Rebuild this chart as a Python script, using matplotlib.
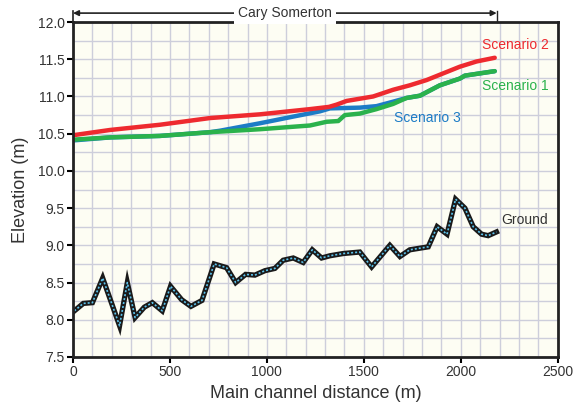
import matplotlib
matplotlib.use('Agg')
import matplotlib.pyplot as plt

plt.rcParams['font.family'] = ['Liberation Sans', 'DejaVu Sans']

# Ground profile
ground_x = [7, 53, 100, 153, 240, 280, 320, 368, 409, 460, 503, 560, 608,
            665, 728, 792, 839, 890, 938, 990, 1041, 1084, 1136, 1187, 1234,
            1282, 1325, 1393, 1479, 1540, 1634, 1686, 1737, 1832, 1878, 1929,
            1973, 2021, 2064, 2107, 2141, 2184]
ground_y = [8.12, 8.22, 8.23, 8.56, 7.92, 8.5, 8.03, 8.17, 8.23, 8.12, 8.45,
            8.27, 8.18, 8.26, 8.75, 8.7, 8.5, 8.61, 8.6, 8.66, 8.69, 8.8,
            8.83, 8.77, 8.94, 8.83, 8.86, 8.89, 8.91, 8.71, 9.0, 8.85, 8.94,
            8.98, 9.25, 9.15, 9.62, 9.5, 9.25, 9.15, 9.13, 9.18]

# Scenario 2
s2_x = [2, 191, 448, 706, 964, 1222, 1320, 1359, 1411, 1548, 1651, 1737,
        1823, 1909, 1995, 2081, 2175]
s2_y = [10.48, 10.55, 10.62, 10.71, 10.76, 10.83, 10.86, 10.89, 10.94, 11.0,
        11.09, 11.15, 11.22, 11.31, 11.4, 11.47, 11.52]

# Scenario 1
s1_x = [2, 191, 448, 706, 964, 1222, 1308, 1368, 1402, 1479, 1565, 1651,
        1720, 1789, 1892, 1995, 2021, 2175]
s1_y = [10.42, 10.45, 10.47, 10.52, 10.56, 10.61, 10.66, 10.67, 10.75, 10.77,
        10.83, 10.9, 10.98, 11.01, 11.15, 11.24, 11.28, 11.34]

# Scenario 3 (follows scenario 1 at both ends)
s3_x = [2, 191, 448, 706, 758, 964, 1136, 1273, 1325, 1479, 1565, 1651, 1720,
        1789, 1892, 1995, 2021, 2175]
s3_y = [10.41, 10.45, 10.47, 10.52, 10.54, 10.64, 10.73, 10.8, 10.84, 10.85,
        10.87, 10.93, 10.98, 11.01, 11.15, 11.24, 11.28, 11.34]

reach_start = 0
reach_end = 2185

red = '#ee2a2f'
green = '#2bb24c'
blue = '#1d7cc6'
txt = '#333333'

fig = plt.figure(figsize=(5.75, 4.08), dpi=100)
ax = fig.add_axes([0.127, 0.125, 0.843, 0.821])
ax.set_facecolor('#fdfdf3')

ax.set_xlim(0, 2500)
ax.set_ylim(7.5, 12.0)
ax.set_xticks(range(0, 2501, 500))
ax.set_yticks([7.5 + 0.5 * i for i in range(10)])
ax.set_yticklabels(['%.1f' % (7.5 + 0.5 * i) for i in range(10)])
ax.set_xticks(range(0, 2501, 100), minor=True)
ax.set_yticks([7.5 + 0.25 * i for i in range(19)], minor=True)
ax.grid(which='both', color='#cdcedb', linewidth=1.0)
ax.set_axisbelow(True)
ax.tick_params(which='minor', length=0)
ax.tick_params(which='major', direction='out', length=4, width=1.5,
               labelsize=10, labelcolor=txt, pad=2)
for s in ax.spines.values():
    s.set_linewidth(2)
    s.set_color('#222222')

# scenarios
ax.plot(s3_x, s3_y, color=blue, lw=3.2, solid_capstyle='round')
ax.plot(s1_x, s1_y, color=green, lw=3.2, solid_capstyle='round')
ax.plot(s2_x, s2_y, color=red, lw=3.2, solid_capstyle='round')

# ground: black line with dotted blue core
ax.plot(ground_x, ground_y, color='#1a1a1a', lw=3.8, solid_joinstyle='miter')
ax.plot(ground_x, ground_y, color='#5cc3ec', lw=1.2, ls=(0, (1.2, 1.2)))

ax.text(2108, 11.69, 'Scenario 2', color=red, fontsize=10, ha='left', va='center')
ax.text(2108, 11.14, 'Scenario 1', color=green, fontsize=10, ha='left', va='center')
ax.text(1655, 10.71, 'Scenario 3', color=blue, fontsize=10, ha='left', va='center')
ax.text(2210, 9.34, 'Ground', color=txt, fontsize=10, ha='left', va='center')

ax.set_xlabel('Main channel distance (m)', fontsize=13, color=txt, labelpad=4)
ax.set_ylabel('Elevation (m)', fontsize=13, color=txt, labelpad=6)

# reach annotation above the plot
ya = 12.12
ax.annotate('', xy=(reach_start, ya), xytext=(reach_end, ya),
            arrowprops=dict(arrowstyle='<|-|>', color='#222222', lw=1.2,
                            mutation_scale=8, shrinkA=0, shrinkB=0),
            annotation_clip=False)
ax.plot([reach_start, reach_start], [12.0, 12.15], color='#222222', lw=1.2, clip_on=False)
ax.plot([reach_end, reach_end], [12.0, 12.15], color='#222222', lw=1.0, clip_on=False)
ax.text((reach_start + reach_end) / 2, ya, 'Cary Somerton', fontsize=10,
        color=txt, ha='center', va='center',
        bbox=dict(facecolor='white', edgecolor='none', pad=3))

fig.savefig('out.png', dpi=100)
